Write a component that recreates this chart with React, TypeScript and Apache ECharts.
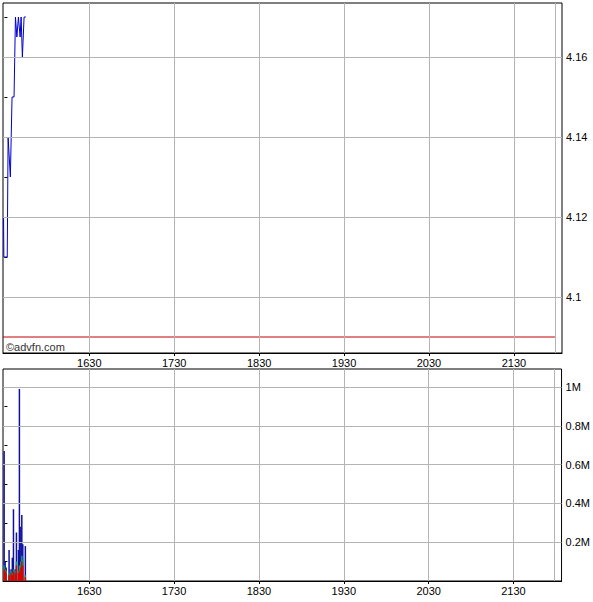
import React, { useEffect, useRef } from 'react';
import * as echarts from 'echarts';

// time axis in minutes after 15:30
const timeTicks = [60, 120, 180, 240, 300, 360];
const timeLabels = ['1630', '1730', '1830', '1930', '2030', '2130'];
const closeMinute = 389;
const prevClose = 4.09;

// price line
const priceMinutes = [-0.6, -0.4, 2, 2.6, 4.2, 5.4, 6.8, 7.8, 8.8, 9.9, 11.1, 11.8, 12.7, 13.9, 15.1];
const priceValues = [4.12, 4.11, 4.11, 4.14, 4.13, 4.15, 4.15, 4.17, 4.165, 4.17, 4.165, 4.17, 4.16, 4.17, 4.17];
const priceLabelTicks = [4.1, 4.12, 4.14, 4.16];
const priceAllTicks = [4.1, 4.11, 4.12, 4.13, 4.14, 4.15, 4.16, 4.17];

// volume bars (millions): top of each coloured band
const volMinutes = [-0.2, 0.5, 1.2, 3.3, 4.7, 5.6, 6.4, 7.6, 8.5, 9.9, 10.6, 11.6, 12.3, 13, 14.8];
const volTotal = [0.67, 0.1, 0.07, 0.16, 0.06, 0.12, 0.37, 0.06, 0.25, 0.16, 0.99, 0.28, 0.34, 0.19, 0.18];
const volGreenTop = [0.08, 0.06, 0.05, 0.04, 0.05, 0.04, 0.06, 0.05, 0.1, 0.05, 0.08, 0.1, 0.13, 0.11, 0.03];
const volRedTop = [0.06, 0.05, 0.04, 0.03, 0.04, 0.03, 0.05, 0.04, 0.08, 0.04, 0.05, 0.07, 0.1, 0.08, 0.02];
const volLabelTicks = [0.2, 0.4, 0.6, 0.8, 1];
const volAllTicks = [0.1, 0.2, 0.3, 0.4, 0.5, 0.6, 0.7, 0.8, 0.9, 1];

const font = 'Liberation Sans, Arial, sans-serif';
const gridColor = '#b4b4b4';

const App: React.FC = () => {
  const chartRef = useRef<HTMLDivElement>(null);

  useEffect(() => {
    if (!chartRef.current) return;
    const chart = echarts.init(chartRef.current, undefined, { renderer: 'svg' });

    const xLines = [...timeTicks, closeMinute].map(v => ({ xAxis: v }));
    const gridLineStyle = { color: gridColor, width: 1, type: 'solid' as const };

    const xAxisBase = (gridIndex: number) => ({
      type: 'value',
      gridIndex,
      min: -1,
      max: 394,
      axisLine: { show: true, lineStyle: { color: '#000' } },
      axisTick: { show: true, length: 3, customValues: timeTicks, lineStyle: { color: '#000' } },
      axisLabel: {
        customValues: timeTicks,
        formatter: (v: number) => timeLabels[timeTicks.indexOf(v)] ?? '',
        color: '#000',
        fontFamily: font,
        fontSize: 11,
        margin: 4
      },
      splitLine: { show: false }
    });

    const volBar = (name: string, values: number[], color: string, extra: any = {}) => ({
      name,
      type: 'bar',
      xAxisIndex: 1,
      yAxisIndex: 1,
      barWidth: 1.5,
      barGap: '-100%',
      data: volMinutes.map((m, i) => [m, values[i]]),
      itemStyle: { color },
      ...extra
    });

    const option = {
      animation: false,
      backgroundColor: '#fff',
      grid: [
        { left: 3, top: 3, width: 559, height: 350, show: true, borderColor: '#000', borderWidth: 1, backgroundColor: 'transparent' },
        { left: 3, top: 369, width: 559, height: 212, show: true, borderColor: '#000', borderWidth: 1, backgroundColor: 'transparent' }
      ],
      xAxis: [xAxisBase(0), xAxisBase(1)],
      yAxis: [
        {
          type: 'value',
          gridIndex: 0,
          position: 'right',
          min: 4.086,
          max: 4.1735,
          axisLine: { show: false },
          axisTick: { show: true, inside: false, length: 3, customValues: priceAllTicks, lineStyle: { color: '#000' } },
          axisLabel: {
            customValues: priceLabelTicks,
            formatter: (v: number) => String(Number(v.toFixed(2))),
            color: '#000',
            fontFamily: font,
            fontSize: 11,
            margin: 4
          },
          splitLine: { show: false }
        },
        {
          type: 'value',
          gridIndex: 1,
          position: 'right',
          min: 0,
          max: 1.093,
          axisLine: { show: false },
          axisTick: { show: true, inside: false, length: 3, customValues: volAllTicks, lineStyle: { color: '#000' } },
          axisLabel: {
            customValues: volLabelTicks,
            formatter: (v: number) => Number(v.toFixed(1)) + 'M',
            color: '#000',
            fontFamily: font,
            fontSize: 11,
            margin: 4
          },
          splitLine: { show: false }
        }
      ],
      graphic: [
        {
          type: 'text',
          left: 6,
          top: 341,
          style: { text: '©advfn.com', fill: '#333', font: `11px ${font}` }
        }
      ],
      series: [
        {
          name: 'prevClose',
          type: 'line',
          xAxisIndex: 0,
          yAxisIndex: 0,
          data: [[-1, prevClose], [closeMinute, prevClose]],
          symbol: 'none',
          lineStyle: { color: '#c00000', width: 1 },
          silent: true,
          markLine: {
            silent: true,
            symbol: 'none',
            label: { show: false },
            lineStyle: gridLineStyle,
            data: [...xLines, ...priceLabelTicks.map(v => ({ yAxis: v }))]
          },
          z: 1
        },
        {
          name: 'price',
          type: 'line',
          xAxisIndex: 0,
          yAxisIndex: 0,
          data: priceMinutes.map((m, i) => [m, priceValues[i]]),
          symbol: 'none',
          lineStyle: { color: '#0000cc', width: 1 },
          z: 3
        },
        volBar('volTotal', volTotal, '#1010a0', {
          markLine: {
            silent: true,
            symbol: 'none',
            label: { show: false },
            lineStyle: gridLineStyle,
            data: [...xLines, ...volLabelTicks.map(v => ({ yAxis: v }))]
          }
        }),
        volBar('volGreen', volGreenTop, '#00a070'),
        volBar('volRed', volRedTop, '#e00000')
      ]
    };

    chart.setOption(option as any);

    return () => {
      chart.dispose();
    };
  }, []);

  return (
    <div style={{ position: 'fixed', left: 0, top: 0, width: 593, height: 602, background: '#fff' }}>
      <div ref={chartRef} style={{ width: '593px', height: '602px' }} />
    </div>
  );
};

export default App;
